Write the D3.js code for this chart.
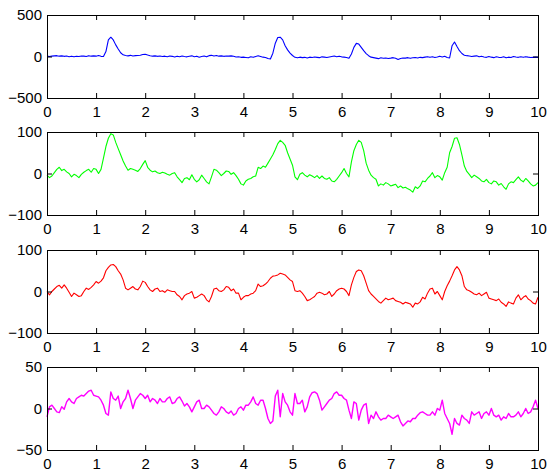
<!DOCTYPE html>
<html>
<head>
<meta charset="utf-8">
<script src="https://cdn.jsdelivr.net/npm/d3@7"></script>
<style>
  body { margin: 0; background: #fff; }
  svg text { font-family: "Liberation Sans", Arial, sans-serif; font-size: 15px; fill: #000; }
</style>
</head>
<body>
<div id="my_dataviz"></div>
<script>
// time axis: 0 .. 10 s, one sample every 0.05 s
var tStep = 0.05;
var xTicks = [0, 1, 2, 3, 4, 5, 6, 7, 8, 9, 10];

// series values
var blue = [5,0,4,8,10,4,8,2,6,-2,4,-4,2,0,6,4,0,10,4,8,
  4,12,2,0,60,200,232,200,140,90,45,20,12,8,14,6,10,12,16,24,
  28,18,10,4,8,2,6,0,4,-2,6,2,-6,4,-2,6,0,-4,2,8,
  -2,4,-8,0,6,-4,10,14,6,12,4,8,2,6,4,8,2,-6,-4,-10,
  -8,-12,-16,-4,-10,0,8,0,-8,-12,-24,-30,40,160,228,232,200,130,80,40,
  12,-10,-16,-8,-14,-10,-18,-8,-12,-6,-10,-14,-4,-8,-12,-6,0,6,-2,4,
  -4,-8,-12,-20,30,110,158,150,110,70,35,10,-8,-14,-20,-26,-16,-22,-18,-24,
  -20,-14,-22,-36,-24,-18,-20,-14,-22,-16,-12,-18,-10,-14,-8,-2,-10,-4,-12,-6,
  4,-6,2,-12,-18,130,175,120,70,36,16,10,6,0,4,8,-4,2,-6,-10,
  0,-8,-14,-4,-10,-12,-4,-16,-8,-12,0,-6,-10,-4,-10,-2,-8,-12,-10,-8,-10];

var green = [-4,-10,-6,2,10,15,7,10,4,0,-8,-2,-5,-10,-2,3,7,10,3,12,
  10,0,10,37,65,85,96,93,75,60,45,30,18,8,12,10,8,5,12,22,
  31,15,8,4,6,2,0,3,1,-2,-4,0,2,-8,-15,-22,-12,-10,-15,-3,
  -14,-20,-15,-4,-12,-20,-25,-8,10,8,2,-5,0,6,5,-2,2,-5,-14,-25,
  -28,-18,-14,-12,-8,-6,15,12,18,15,25,35,45,58,72,80,75,68,50,35,
  20,-8,-15,-2,2,-4,-8,-3,-6,-10,-5,-12,-6,-12,-14,-10,-18,-20,-14,-6,
  2,12,0,-8,28,55,70,80,75,55,25,8,-4,-10,-14,-30,-25,-28,-22,-25,
  -30,-28,-26,-34,-30,-35,-33,-37,-40,-45,-32,-36,-30,-18,-20,-12,-6,2,-10,-5,
  -8,-16,2,15,50,65,85,86,70,45,18,5,-2,-10,-4,-8,-12,-18,-20,-14,
  -22,-25,-18,-20,-28,-24,-32,-38,-25,-20,-22,-15,-8,-16,-20,-12,-18,-25,-30,-28,-22];

var red = [0,-8,0,6,12,15,8,16,8,-2,-12,-4,-8,-12,-10,0,8,5,10,16,
  24,20,25,33,50,58,64,65,60,50,42,28,8,4,8,12,6,4,12,25,
  22,12,4,0,6,8,0,2,-2,4,2,0,0,-8,-12,-20,-10,-6,-4,0,
  -16,-14,-10,-6,-10,-20,-25,-12,6,8,2,0,4,12,10,2,6,-4,-4,-20,
  -14,-10,-10,-6,-4,2,18,12,14,18,24,32,37,38,40,44,42,40,34,28,
  24,2,0,2,-4,-12,-22,-20,-16,-12,-4,-2,-4,-8,-6,0,-12,-6,2,6,
  8,6,0,-10,16,34,48,52,50,38,20,2,-6,-12,-18,-24,-28,-22,-16,-20,
  -18,-16,-22,-24,-26,-30,-26,-28,-30,-38,-28,-30,-25,-14,-18,-4,6,8,-6,0,
  -10,-20,0,14,25,38,52,60,52,38,12,4,2,-2,-6,-8,-4,-10,-6,-2,
  -16,-18,-20,-22,-18,-26,-30,-36,-25,-28,-30,-16,-8,-20,-14,-10,-18,-22,-28,-30,-14];

var magenta = [-10,2,4,0,-4,-5,2,-1,8,12,8,6,12,14,16,15,18,21,22,16,
  15,14,10,4,-6,-8,20,12,10,15,0,8,12,22,12,0,10,14,18,16,
  12,16,8,12,10,6,12,8,8,12,14,6,7,12,14,9,3,6,2,-4,
  2,8,10,0,0,4,2,-2,-6,-8,-4,2,0,-4,-6,-3,-8,-6,0,2,
  -2,4,4,8,14,6,4,10,10,0,-12,-18,-15,15,22,-10,18,8,4,-4,
  -8,18,6,6,10,-4,2,14,19,20,18,10,-2,2,6,10,12,18,20,16,
  16,12,10,-2,-12,8,6,-14,-2,4,6,-18,-8,-12,-4,-10,-14,-12,-12,-8,
  -10,-12,-10,-8,-16,-21,-18,-15,-16,-12,-12,-8,-5,-4,-6,-8,-8,-4,-8,0,
  -2,10,-6,-12,-18,-31,-12,-18,-20,-8,-12,-14,-18,-4,-8,-6,-4,-12,-6,-4,
  -8,0,-8,-10,-8,-14,-10,-12,-6,-10,-10,-8,-4,-10,-6,0,-6,-4,2,10,0];

var panels = [
  { values: blue,    color: "#0000ff", domain: [-500, 500], ticks: [-500, 0, 500] },
  { values: green,   color: "#00ff00", domain: [-100, 100], ticks: [-100, 0, 100] },
  { values: red,     color: "#ff0000", domain: [-100, 100], ticks: [-100, 0, 100] },
  { values: magenta, color: "#ff00ff", domain: [-50, 50],   ticks: [-50, 0, 50] }
];

var W = 552, H = 473;
var left = 47, right = 538;
var panelTops = [15, 132, 250, 367], panelH = 83;
var tickLen = 5;

var svg = d3.select("#my_dataviz")
  .append("svg")
    .attr("width", W)
    .attr("height", H);

var x = d3.scaleLinear().domain([0, 10]).range([left, right]);

panels.forEach(function(p, i) {
  var top = panelTops[i];
  var bottom = top + panelH;
  var y = d3.scaleLinear().domain(p.domain).range([bottom, top]);

  var g = svg.append("g");

  // the trace
  var line = d3.line()
    .x(function(d, k) { return x(k * tStep); })
    .y(function(d) { return y(d); });
  g.append("path")
    .datum(p.values)
    .attr("fill", "none")
    .attr("stroke", p.color)
    .attr("stroke-width", i == 3 ? 1.4 : 1.1)
    .attr("stroke-linejoin", "round")
    .attr("d", line);

  // axes, ticks pointing inward like matlab
  g.append("g")
    .attr("transform", "translate(0," + bottom + ")")
    .call(d3.axisBottom(x).tickValues(xTicks).tickSize(-tickLen).tickPadding(8).tickFormat(d3.format("d")));
  g.append("g")
    .attr("transform", "translate(0," + top + ")")
    .call(d3.axisTop(x).tickValues(xTicks).tickSize(-tickLen).tickFormat(""));
  g.append("g")
    .attr("transform", "translate(" + left + ",0)")
    .call(d3.axisLeft(y).tickValues(p.ticks).tickSize(-tickLen).tickPadding(5).tickFormat(d3.format("d")));
  g.append("g")
    .attr("transform", "translate(" + right + ",0)")
    .call(d3.axisRight(y).tickValues(p.ticks).tickSize(-tickLen).tickFormat(""));

  g.selectAll(".domain").remove();
  g.selectAll(".tick line").attr("stroke", "#000");
  g.selectAll(".tick text")
    .style("font-size", "15px")
    .style("font-family", "'Liberation Sans', Arial, sans-serif")
    .attr("fill", "#000");

  g.append("rect")
    .attr("x", left + 0.5)
    .attr("y", top + 0.5)
    .attr("width", right - left)
    .attr("height", panelH)
    .attr("fill", "none")
    .attr("stroke", "#000")
    .attr("stroke-width", 1)
    .attr("shape-rendering", "crispEdges");
});
</script>
</body>
</html>
